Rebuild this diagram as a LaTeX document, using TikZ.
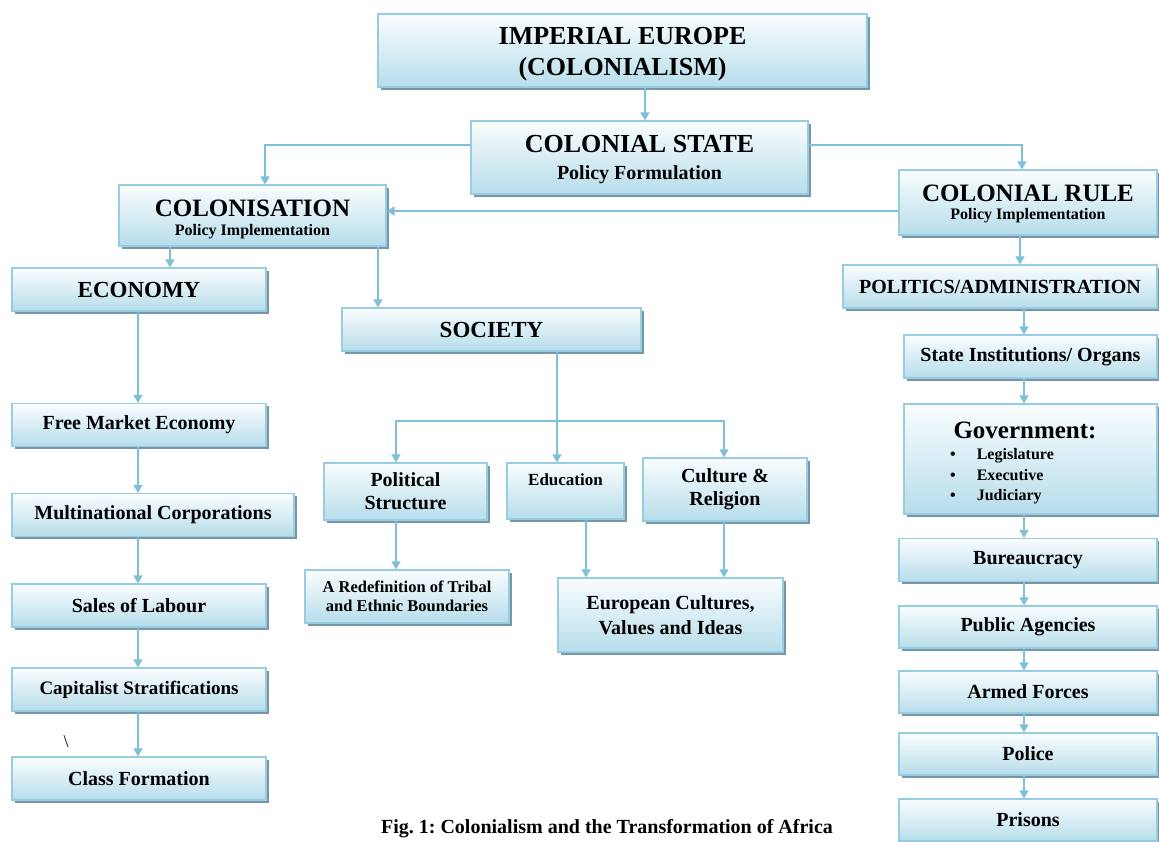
\documentclass[tikz,border=0pt]{standalone}
\usepackage{fontspec}
\setmainfont{Liberation Serif}[BoldFont={Liberation Serif Bold}]
\frenchspacing
\usetikzlibrary{arrows.meta,shadows}
\definecolor{boxtop}{RGB}{250,253,254}
\definecolor{boxbot}{RGB}{183,221,235}
\definecolor{boxline}{RGB}{150,205,225}
\definecolor{arrowc}{RGB}{125,192,215}
\definecolor{shadowc}{RGB}{120,150,165}
\newcommand{\fsz}[2]{\fontsize{#1}{#2}\selectfont}
\tikzset{
  box/.style={draw=boxline, line width=1.2pt, top color=boxtop, bottom color=boxbot,
    inner sep=0pt, align=center, font=\bfseries\fsz{20}{23},
    drop shadow={shadow xshift=2.5pt, shadow yshift=-2.5pt, fill=shadowc, opacity=1}},
  conn/.style={draw=arrowc, line width=1.5pt},
  arr/.style={conn, -{Triangle[width=9pt,length=8pt]}},
  plain/.style={inner sep=0pt, align=center}
}
\begin{document}
\begin{tikzpicture}[x=1pt,y=-1pt]
\path[use as bounding box, fill=white] (0,0) rectangle (1159,841);
% top
\node[box, minimum width=489, minimum height=73, font=\bfseries\fsz{26}{31}] (imp) at (622.5,50.5) {\rule{0pt}{25pt}IMPERIAL EUROPE\\(COLONIALISM)};
\node[box, minimum width=337, minimum height=73, font=\bfseries\fsz{26}{27}] (cst) at (639.5,157.5) {\rule{0pt}{21pt}COLONIAL STATE\\{\fsz{20}{20}Policy Formulation}};
\node[box, minimum width=267, minimum height=61, font=\bfseries\fsz{25}{19}] (col) at (252.5,215.5) {\rule{0pt}{23.5pt}COLONISATION\\{\fsz{16}{16}Policy Implementation}};
\node[box, minimum width=258, minimum height=65, font=\bfseries\fsz{25}{18.5}] (rule) at (1028,202.5) {\rule{0pt}{19pt}COLONIAL RULE\\{\fsz{16}{16}Policy Implementation}};
% second level
\node[box, minimum width=254, minimum height=43, font=\bfseries\fsz{23}{26}] (eco) at (139,289.5) {ECONOMY};
\node[box, minimum width=299, minimum height=43, font=\bfseries\fsz{23}{26}] (soc) at (491.5,329.5) {SOCIETY};
\node[box, minimum width=314, minimum height=43] (pol) at (1000,286.5) {POLITICS/ADMINISTRATION};
% right column
\node[box, minimum width=253, minimum height=43] (sti) at (1030.5,356.5) {State Institutions/ Organs};
\node[box, minimum width=253, minimum height=110] (gov) at (1030.5,459) {};
\node[plain, font=\bfseries\fsz{25}{28}] (govT) at (1025,430) {Government:};
\node[plain, anchor=west, font=\bfseries\fsz{16}{20.5}] (govL) at (950,476)
  {\begin{tabular}{@{}l@{\hspace{21pt}}l@{}}\textbullet & Legislature\\ \textbullet & Executive\\ \textbullet & Judiciary\end{tabular}};
\node[box, minimum width=258, minimum height=43] (bur) at (1028,560) {Bureaucracy};
\node[box, minimum width=258, minimum height=42] (pub) at (1028,627) {Public Agencies};
\node[box, minimum width=258, minimum height=42] (arm) at (1028,692) {Armed Forces};
\node[box, minimum width=258, minimum height=42] (plc) at (1028,754) {Police};
\node[box, minimum width=258, minimum height=42] (pri) at (1028,820) {Prisons};
% left column
\node[box, minimum width=254, minimum height=43] (fme) at (139,425) {Free Market Economy};
\node[box, minimum width=282, minimum height=43] (mnc) at (153,515) {Multinational Corporations};
\node[box, minimum width=254, minimum height=43] (sol) at (139,605.5) {Sales of Labour};
\node[box, minimum width=254, minimum height=43, font=\bfseries\fsz{19}{22}] (cap) at (139,689.5) {Capitalist Stratifications};
\node[box, minimum width=254, minimum height=43] (cls) at (139,778.5) {Class Formation};
% society branch
\node[box, minimum width=163, minimum height=57] (polst) at (405.5,491.5) {Political\\Structure};
\node[box, minimum width=117, minimum height=56] (edu) at (565.5,491) {};
\node[plain, font=\bfseries\fsz{17}{20}] (eduT) at (565.5,480) {Education};
\node[box, minimum width=164, minimum height=63] (cul) at (725,489.5) {Culture \&\\Religion};
\node[box, minimum width=204, minimum height=53, font=\bfseries\fsz{16.5}{19}] (red) at (407,596.5) {A Redefinition of Tribal\\and Ethnic Boundaries};
\node[box, minimum width=225, minimum height=74, font=\bfseries\fsz{20}{25}] (euc) at (670.5,615) {European Cultures,\\Values and Ideas};
% stray mark and caption
\node[plain, font=\fsz{18}{20}] (bs) at (66,742) {\textbackslash};
\node[plain, font=\bfseries\fsz{20}{22}] (cap1) at (607,829) {Fig. 1: Colonialism and the Transformation of Africa};
% connectors
\draw[arr] (645,0 |- imp.south) -- (645,0 |- cst.north);
\draw[arr] (cst.west |- 0,145) -| (265,0 |- col.north);
\draw[arr] (cst.east |- 0,145) -| (1022,0 |- rule.north);
\draw[arr] (rule.west |- 0,211) -- (col.east |- 0,211);
\draw[arr] (170,0 |- col.south) -- (170,0 |- eco.north);
\draw[arr] (378,0 |- col.south) -- (378,0 |- soc.north);
\draw[arr] (1020,0 |- rule.south) -- (1020,0 |- pol.north);
\draw[arr] (1024,0 |- pol.south) -- (1024,0 |- sti.north);
\draw[arr] (1024,0 |- sti.south) -- (1024,0 |- gov.north);
\draw[arr] (1024,0 |- gov.south) -- (1024,0 |- bur.north);
\draw[arr] (1024,0 |- bur.south) -- (1024,0 |- pub.north);
\draw[arr] (1024,0 |- pub.south) -- (1024,0 |- arm.north);
\draw[arr] (1024,0 |- arm.south) -- (1024,0 |- plc.north);
\draw[arr] (1024,0 |- plc.south) -- (1024,0 |- pri.north);
\draw[arr] (138,0 |- eco.south) -- (138,0 |- fme.north);
\draw[arr] (138,0 |- fme.south) -- (138,0 |- mnc.north);
\draw[arr] (138,0 |- mnc.south) -- (138,0 |- sol.north);
\draw[arr] (138,0 |- sol.south) -- (138,0 |- cap.north);
\draw[arr] (138,0 |- cap.south) -- (138,0 |- cls.north);
\coordinate (sj) at (557,421);
\draw[conn] (sj |- soc.south) -- (sj);
\draw[arr] (sj) -- (sj |- edu.north);
\draw[arr] (sj) -| (396,0 |- polst.north);
\draw[arr] (sj) -| (724,0 |- cul.north);
\draw[arr] (396,0 |- polst.south) -- (396,0 |- red.north);
\draw[arr] (586,0 |- edu.south) -- (586,0 |- euc.north);
\draw[arr] (724,0 |- cul.south) -- (724,0 |- euc.north);
\end{tikzpicture}
\end{document}
